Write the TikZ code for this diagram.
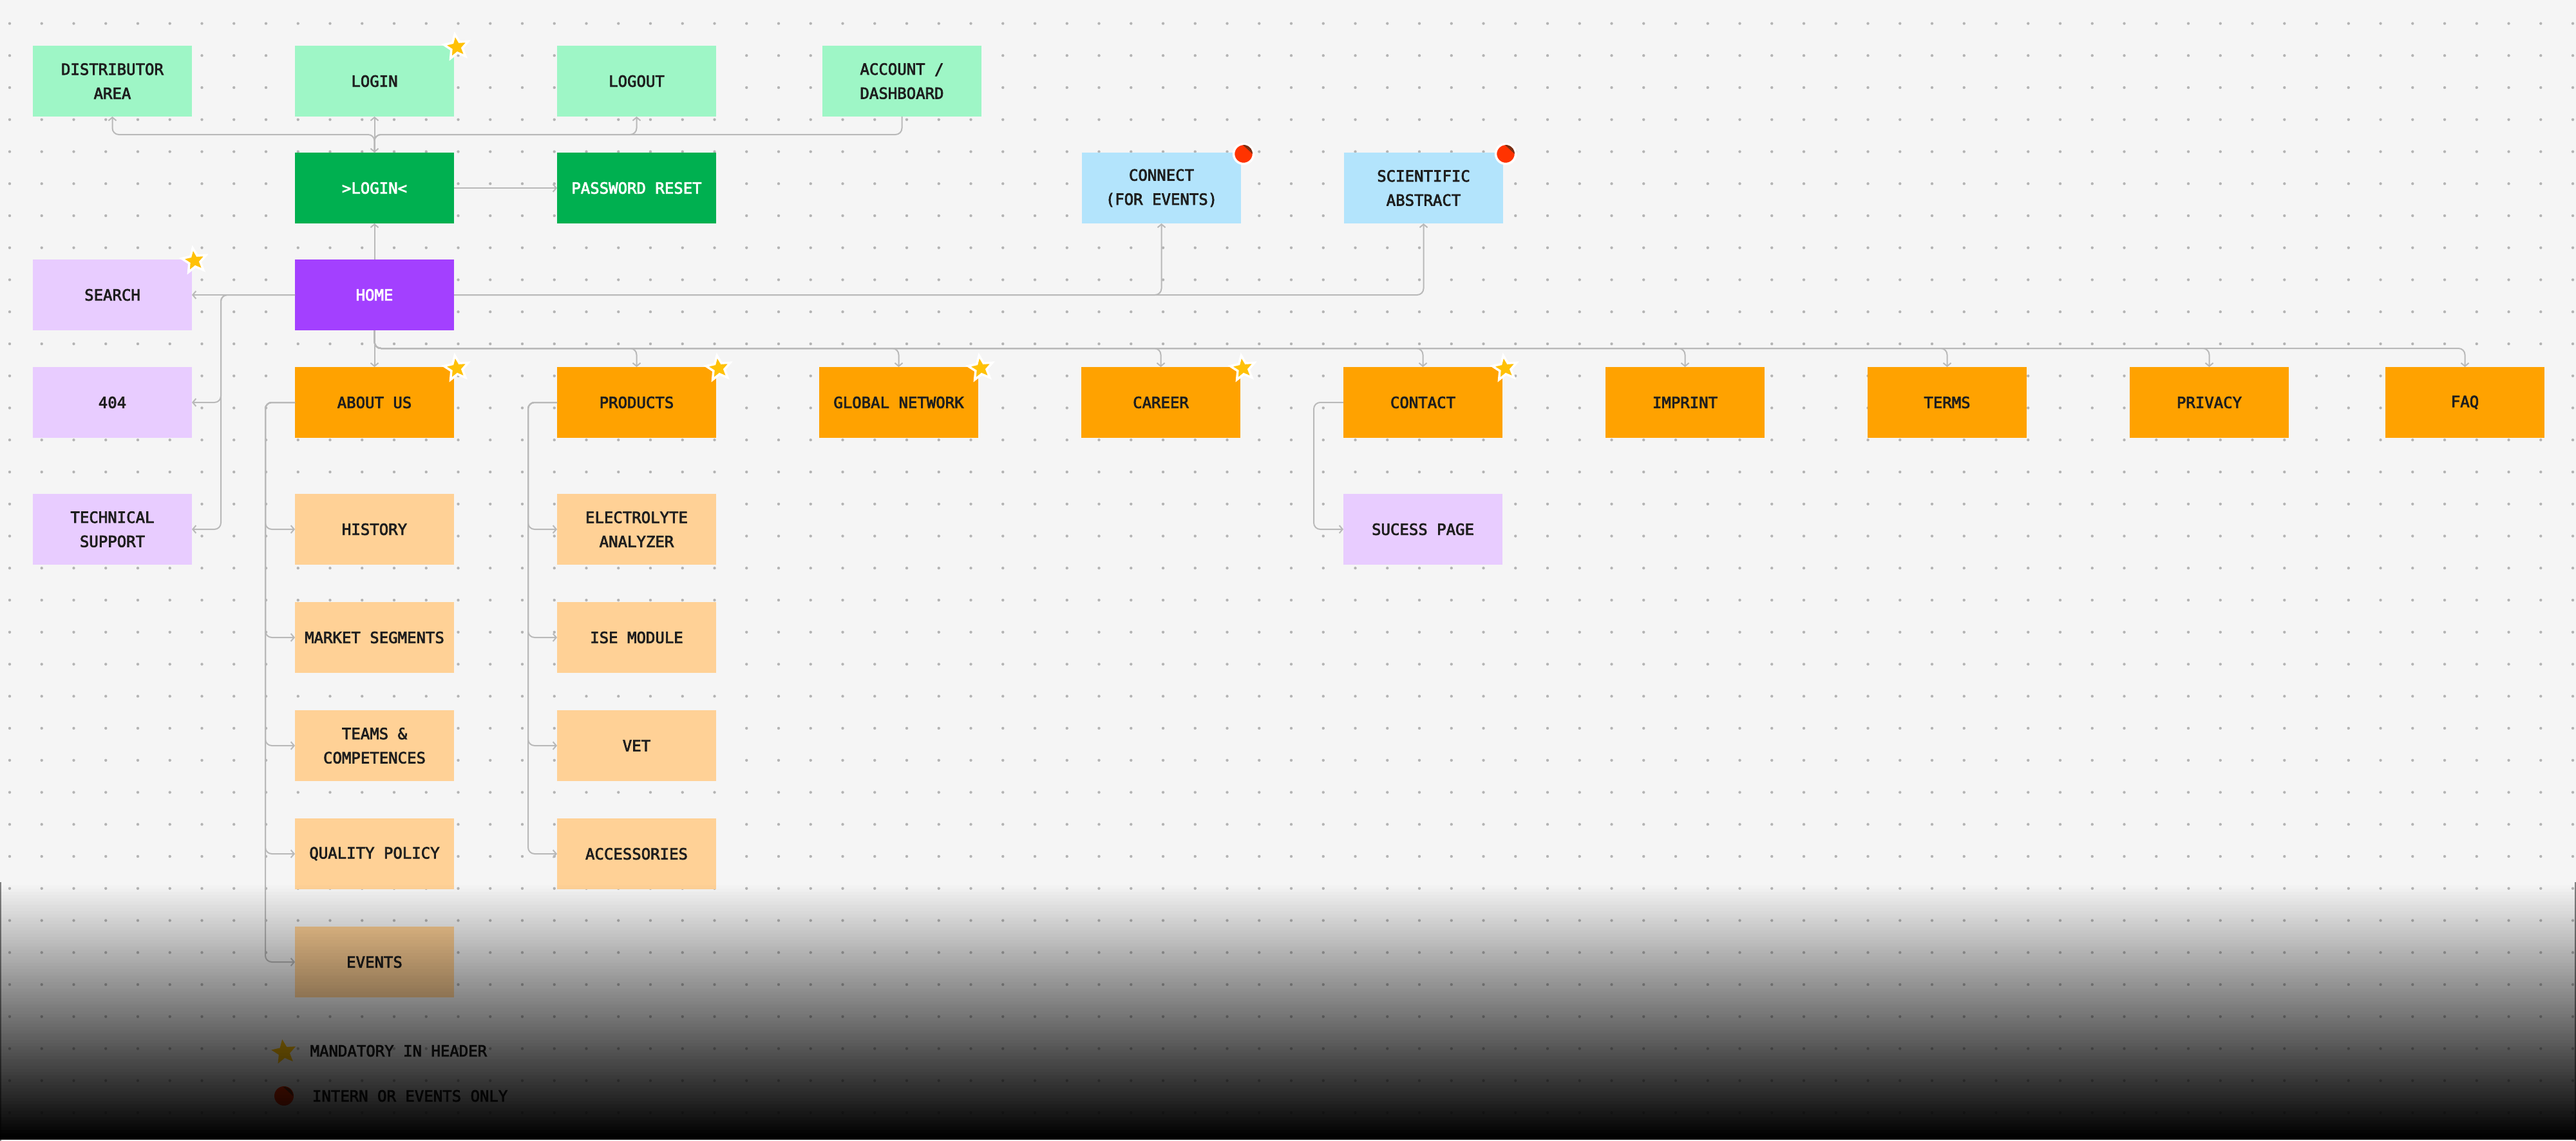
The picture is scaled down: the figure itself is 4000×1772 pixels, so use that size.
\documentclass[tikz,border=0pt]{standalone}
\usepackage{fontspec}
\newfontfamily\mapfont[FakeBold=3]{DejaVu Sans Mono}
\usetikzlibrary{arrows.meta,positioning,shapes.geometric}
\definecolor{SMBack}{HTML}{F5F5F5}
\definecolor{SMDot}{HTML}{B4B4B4}
\definecolor{SMLine}{HTML}{B9B9B9}
\definecolor{SMInk}{HTML}{1E1E1E}
\definecolor{SMMint}{HTML}{9EF6C6}
\definecolor{SMGreen}{HTML}{00B050}
\definecolor{SMPurple}{HTML}{A340FF}
\definecolor{SMLilac}{HTML}{E8CCFF}
\definecolor{SMSky}{HTML}{B3E4FC}
\definecolor{SMOrange}{HTML}{FFA200}
\definecolor{SMPeach}{HTML}{FFD196}
\definecolor{SMStar}{HTML}{FFC107}
\definecolor{SMRed}{HTML}{FF3300}
\definecolor{SMFold}{HTML}{7A2E14}
\tikzset{
  >={Straight Barb[length=5pt,width=12pt]},
  smbox/.style={minimum width=247pt, minimum height=110pt, inner sep=0pt,
    outer sep=0pt, align=center, text=SMInk,
    font=\mapfont\fontsize{24}{37.5}\selectfont},
  smmint/.style={smbox, fill=SMMint},
  smlogin/.style={smbox, fill=SMGreen, text=white},
  smhome/.style={smbox, fill=SMPurple, text=white},
  smlilac/.style={smbox, fill=SMLilac},
  smsky/.style={smbox, fill=SMSky},
  smorange/.style={smbox, fill=SMOrange},
  smpeach/.style={smbox, fill=SMPeach},
  smline/.style={draw=SMLine, line width=2pt, rounded corners=10pt},
  smstar/.style={star, star points=5, star point ratio=2.2, minimum size=40pt,
    inner sep=0pt, fill=SMStar, draw=white, line width=3.5pt, rotate=8},
  smsticker/.style={circle, minimum size=31pt, inner sep=0pt, fill=SMRed,
    draw=white, line width=3.5pt},
  smlegend/.style={inner sep=0pt, text=SMInk,
    font=\mapfont\fontsize{24}{37.5}\selectfont}
}
\begin{document}
\begin{tikzpicture}[x=1pt, y=-1pt, node distance=58pt and 160pt]
  \useasboundingbox (0,0) rectangle (4000,1772);
  \fill[SMBack] (0,0) rectangle (4000,1772);
  % dotted canvas
  \foreach \gx in {0,...,80}
    \foreach \gy in {0,...,35}
      \fill[SMDot] (15+49.75*\gx, 36.5+49.75*\gy) circle (2.2pt);

  % header and login
  \node[smhome] (home) at (581.5,458) {HOME};
  \node[smlogin, above=56pt of home] (xlogin) {>LOGIN<};
  \node[smmint, above=56pt of xlogin] (login) {LOGIN};
  \node[smmint, left=of login] (dist) {DISTRIBUTOR\\AREA};
  \node[smmint, right=of login] (logout) {LOGOUT};
  \node[smmint, right=165pt of logout] (acct) {ACCOUNT /\\DASHBOARD};
  \node[smlogin, right=of xlogin] (pwreset) {PASSWORD RESET};
  \node[smsky, right=568pt of pwreset] (connect) {CONNECT\\(FOR EVENTS)};
  \node[smsky, right=of connect] (scientific) {SCIENTIFIC\\ABSTRACT};
  \node[smlilac, left=of home] (search) {SEARCH};

  % main pages
  \node[smorange, below=57pt of home] (about) {ABOUT US};
  \node[smlilac, left=of about] (e404) {404};
  \node[smlilac, below=87pt of e404] (techsupport) {TECHNICAL\\SUPPORT};
  \node[smorange, right=of about] (products) {PRODUCTS};
  \node[smorange, right=of products] (globalnet) {GLOBAL NETWORK};
  \node[smorange, right=of globalnet] (career) {CAREER};
  \node[smorange, right=of career] (contact) {CONTACT};
  \node[smorange, right=of contact] (imprint) {IMPRINT};
  \node[smorange, right=of imprint] (terms) {TERMS};
  \node[smorange, right=of terms] (privacy) {PRIVACY};
  \node[smorange, right=150pt of privacy] (faq) {FAQ};

  % sub pages
  \node[smpeach, below=87pt of about] (history) {HISTORY};
  \node[smpeach, below=of history] (market) {MARKET SEGMENTS};
  \node[smpeach, below=of market] (teams) {TEAMS \&\\COMPETENCES};
  \node[smpeach, below=of teams] (quality) {QUALITY POLICY};
  \node[smpeach, below=of quality] (events) {EVENTS};
  \node[smpeach, below=87pt of products] (electrolyte) {ELECTROLYTE\\ANALYZER};
  \node[smpeach, below=of electrolyte] (ise) {ISE MODULE};
  \node[smpeach, below=of ise] (vet) {VET};
  \node[smpeach, below=of vet] (accessories) {ACCESSORIES};
  \node[smlilac, below=87pt of contact] (sucess) {SUCESS PAGE};

  % connectors
  \draw[smline, ->] (xlogin.north) -- ++(0,-28) -| (dist.south);
  \draw[smline, ->] (xlogin.north) -- ++(0,-28) -| (logout.south);
  \draw[smline, ->] (acct.south) -- ++(0,28) -| (xlogin.north);
  \draw[smline, ->] (xlogin) -- (login);
  \draw[smline, ->] (xlogin) -- (pwreset);
  \draw[smline, ->] (home) -- (xlogin);
  \draw[smline, ->] (home) -- (search);
  \draw[smline, ->] (home.west) -| ([xshift=45pt]e404.east) -- (e404.east);
  \draw[smline, ->] (home.west) -| ([xshift=45pt]techsupport.east) -- (techsupport.east);
  \draw[smline, ->] (home.east) -| (connect.south);
  \draw[smline, ->] (home.east) -| (scientific.south);
  \draw[smline, ->] (home) -- (about);
  \foreach \page in {products,globalnet,career,contact,imprint,terms,privacy,faq}
    \draw[smline, ->] (home.south) -- ++(0,28) -| (\page.north);
  \foreach \page in {history,market,teams,quality,events}
    \draw[smline, ->] (about.west) -- ++(-46,0) |- (\page.west);
  \foreach \page in {electrolyte,ise,vet,accessories}
    \draw[smline, ->] (products.west) -- ++(-45,0) |- (\page.west);
  \draw[smline, ->] (contact.west) -- ++(-46,0) |- (sucess.west);

  % markers
  \foreach \page in {login,search,about,products,globalnet,career,contact}
    \node[smstar] (star\page) at ([xshift=4pt,yshift=-2pt]\page.north east) {};
  \foreach \page in {connect,scientific} {
    \node[smsticker] (stick\page) at ([xshift=4pt,yshift=-2pt]\page.north east) {};
    \fill[SMFold] ([shift={(95:14pt)}]stick\page.center)
      arc[start angle=95, end angle=0, radius=14pt] -- cycle;
  }

  % legend
  \node[smstar, draw=none] (legstar) at (441,1634) {};
  \node[smlegend, right=26pt of legstar] (legmand) {MANDATORY IN HEADER};
  \node[smsticker, draw=none, minimum size=30pt] (legdot) at (441,1702) {};
  \fill[SMFold] ([shift={(95:14pt)}]legdot.center)
    arc[start angle=95, end angle=0, radius=14pt] -- cycle;
  \node[smlegend, right=27pt of legdot] (legintern) {INTERN OR EVENTS ONLY};

  % bottom fade
  \draw[gray, line width=4pt] (0,1370) -- (0,1772) (4000,1370) -- (4000,1772);
  \foreach \k in {0,...,79}
    \fill[black, opacity=\k/79] (0,1370+5*\k) rectangle (4000,1375+5*\k);
\end{tikzpicture}
\end{document}
